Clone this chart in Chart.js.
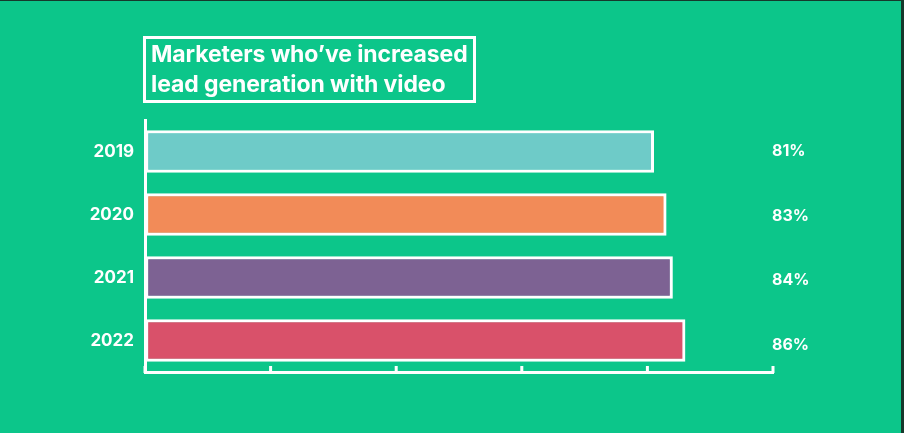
<!DOCTYPE html>
<html>
<head>
<meta charset="utf-8">
<script src="https://cdn.jsdelivr.net/npm/chart.js@4.4.1/dist/chart.umd.min.js"></script>
<style>
  html, body { margin: 0; padding: 0; background: #0cc68a; }
  #wrap { position: relative; width: 904px; height: 433px; overflow: hidden; }
  #title {
    position: absolute; left: 143px; top: 36px; width: 322px; height: 61px;
    border: 3px solid #fff; box-sizing: content-box;
    color: #fff; font-family: Inter, "Noto Sans", sans-serif; font-weight: 700;
    font-size: 23px; line-height: 30px; padding: 0 0 0 5px; margin: 0;
    letter-spacing: -0.1px; white-space: nowrap;
  }
  #edge { position: absolute; right: 0; top: 0; width: 3px; height: 433px; background: #16392c; }
  #topedge { position: absolute; left: 0; top: 0; width: 904px; height: 1px; background: #16392c; }
</style>
</head>
<body>
<div id="wrap">
  <canvas id="leadgen" width="904" height="433"></canvas>
  <div id="title">Marketers who’ve increased<br>lead generation with video</div>
  <div id="topedge"></div>
  <div id="edge"></div>
</div>
<script>
const years = ["2019", "2020", "2021", "2022"];
const percents = [81, 83, 84, 86];
const barColors = ["#6ecbc8", "#f28b58", "#7d6293", "#d9516a"];
const xTicks = [0, 20, 40, 60, 80, 100];

// values written at the right end of the x axis, one per bar
const valueLabels = {
  id: "valueLabels",
  afterDatasetsDraw(chart) {
    const ctx = chart.ctx;
    const meta = chart.getDatasetMeta(0);
    const xEnd = chart.scales.x.getPixelForValue(100);
    ctx.save();
    ctx.fillStyle = "#ffffff";
    ctx.font = "700 16px Inter, 'Noto Sans', sans-serif";
    ctx.textAlign = "left";
    ctx.textBaseline = "middle";
    meta.data.forEach((bar, i) => {
      ctx.fillText(percents[i] + "%", xEnd - 1, bar.y + i * 1.5);
    });
    ctx.restore();
  },
};

// small tick marks pointing up from the x axis
const innerTicks = {
  id: "innerTicks",
  afterDraw(chart) {
    const ctx = chart.ctx;
    const x = chart.scales.x;
    ctx.save();
    ctx.strokeStyle = "#ffffff";
    ctx.lineWidth = 3;
    xTicks.forEach((v) => {
      const px = x.getPixelForValue(v);
      ctx.beginPath();
      ctx.moveTo(px, x.top + 1);
      ctx.lineTo(px, x.top - 6);
      ctx.stroke();
    });
    ctx.restore();
  },
};

const data = {
  labels: years,
  datasets: [
    {
      data: percents,
      backgroundColor: barColors,
      borderColor: "#ffffff",
      borderWidth: 3,
      borderSkipped: false,
      barThickness: 42,
    },
  ],
};

const config = {
  type: "bar",
  data,
  options: {
    indexAxis: "y",
    responsive: false,
    animation: false,
    layout: { padding: { top: 120, right: 131, left: 0, bottom: 0 } },
    plugins: {
      legend: { display: false },
      tooltip: { enabled: false },
    },
    scales: {
      x: {
        min: 0,
        max: 100,
        ticks: { display: false, stepSize: 20 },
        grid: { display: true, drawOnChartArea: false, drawTicks: false },
        border: { display: true, color: "#ffffff", width: 3 },
        afterFit: (scale) => { scale.height = 61; },
      },
      y: {
        ticks: {
          color: "#ffffff",
          padding: 11,
          font: { family: "Inter, 'Noto Sans', sans-serif", size: 17, weight: "700" },
        },
        grid: { display: true, drawOnChartArea: false, drawTicks: false },
        border: { display: true, color: "#ffffff", width: 3 },
        afterFit: (scale) => { scale.width = 145; },
      },
    },
  },
  plugins: [valueLabels, innerTicks],
};

new Chart(document.getElementById("leadgen"), config);
</script>
</body>
</html>
